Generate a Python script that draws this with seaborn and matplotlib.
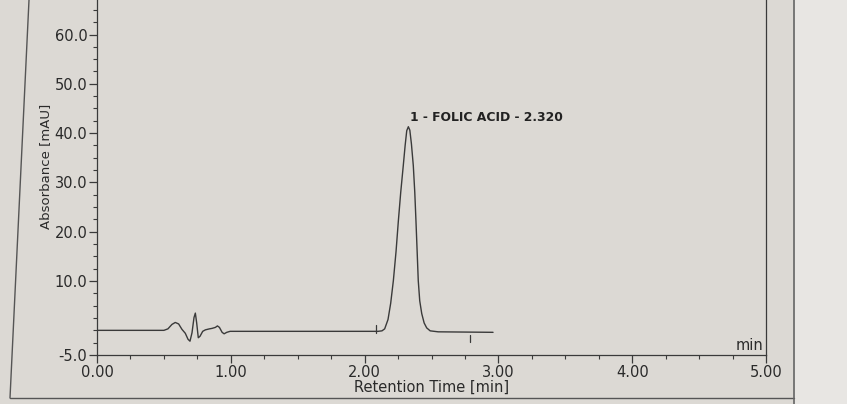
import matplotlib
matplotlib.use("Agg")
import matplotlib.pyplot as plt
from matplotlib.lines import Line2D
from matplotlib.patches import Rectangle
from matplotlib.ticker import FixedLocator, MultipleLocator, FormatStrFormatter
import seaborn as sns
import pandas as pd

# ---- data ----
time_min = [0.00, 0.50, 0.53, 0.56, 0.585, 0.61, 0.635, 0.66, 0.68, 0.695,
            0.71, 0.725, 0.735, 0.745, 0.757, 0.77, 0.79, 0.81, 0.84, 0.86,
            0.885, 0.90, 0.915, 0.935, 0.95, 0.97, 0.995, 1.50,
            2.10, 2.13, 2.15, 2.175, 2.195, 2.215, 2.235, 2.252, 2.27, 2.289,
            2.303, 2.315, 2.327, 2.338, 2.35, 2.364, 2.375, 2.384, 2.393, 2.401,
            2.412, 2.427, 2.445, 2.464, 2.49, 2.55, 2.96]
absorbance = [0.0, 0.0, 0.3, 1.2, 1.6, 1.3, 0.2, -0.6, -1.8, -2.2,
              -0.5, 2.6, 3.5, 1.5, -1.5, -1.2, -0.2, 0.1, 0.3, 0.4,
              0.6, 0.9, 0.6, -0.4, -0.7, -0.4, -0.2, -0.2,
              -0.2, -0.1, 0.3, 2.2, 5.5, 10.1, 16.0, 22.1, 28.0, 33.4,
              37.5, 40.5, 41.3, 40.6, 37.8, 33.4, 28.0, 22.1, 15.8, 10.1,
              6.0, 3.4, 1.5, 0.5, -0.1, -0.3, -0.4]

peak_label = "1 - FOLIC ACID - 2.320"
peak_time = 2.327
peak_height = 41.3
integration_marks = [2.085, 2.79]

x_ticks = [0.0, 1.0, 2.0, 3.0, 4.0, 5.0]
y_ticks = [-5.0, 10.0, 20.0, 30.0, 40.0, 50.0, 60.0]

# ---- styling ----
bg = "#dcd9d4"
ink = "#3a3a3a"
txt = "#2a2a2a"
sns.set_theme(style="white")
plt.rcParams["font.family"] = ["DejaVu Sans"]

W, H = 847, 404
fig = plt.figure(figsize=(W / 100, H / 100), dpi=100, facecolor=bg)
ax = fig.add_axes([97 / W, 1 - 355 / H, (766 - 97) / W, 355 / H])
ax.set_facecolor(bg)

df = pd.DataFrame({"t": time_min, "a": absorbance})
sns.lineplot(data=df, x="t", y="a", sort=False, estimator=None,
             color=ink, linewidth=1.0, ax=ax)

# integration markers
ax.plot([integration_marks[0]] * 2, [-0.6, 1.0], color=ink, lw=0.9)
ax.plot([integration_marks[1]] * 2, [-0.9, -2.4], color=ink, lw=0.9)

ax.annotate(peak_label, xy=(peak_time, peak_height), xytext=(1, 2),
            textcoords="offset points", ha="left", va="bottom",
            fontsize=8.9, fontweight="bold", color="#222222")

ax.set_xlim(0, 5)
ax.set_ylim(-5, 67)

ax.xaxis.set_major_locator(FixedLocator(x_ticks))
ax.xaxis.set_minor_locator(MultipleLocator(0.25))
ax.xaxis.set_major_formatter(FormatStrFormatter("%.2f"))
ax.yaxis.set_major_locator(FixedLocator(y_ticks))
ax.yaxis.set_minor_locator(MultipleLocator(2.5))
ax.yaxis.set_major_formatter(FormatStrFormatter("%.1f"))

ax.tick_params(axis="both", which="major", direction="out", length=6,
               width=0.9, color=ink, labelsize=10.5, labelcolor=txt, pad=1)
ax.tick_params(axis="both", which="minor", direction="out", length=3,
               width=0.8, color=ink)
ax.tick_params(axis="x", which="both", bottom=True)
ax.tick_params(axis="y", which="both", left=True, right=False)

for s in ["left", "bottom", "right"]:
    ax.spines[s].set_visible(True)
    ax.spines[s].set_color(ink)
    ax.spines[s].set_linewidth(0.9)
ax.spines["top"].set_visible(False)

ax.set_xlabel("Retention Time [min]", fontsize=10.5, color=txt, labelpad=0)
ax.set_ylabel("Absorbance [mAU]", fontsize=9.5, color=txt)
ax.yaxis.set_label_coords(-0.067, 0.532)
ax.text(4.98, -4.6, "min", ha="right", va="bottom", fontsize=10.5, color=txt)

# page frame of the printed report
fig.add_artist(Rectangle((795 / W, 0), 1 - 795 / W, 1, transform=fig.transFigure,
                         facecolor="#e8e6e3", edgecolor="none", zorder=-5))
fig.add_artist(Line2D([29 / W, 10 / W], [1, 1 - 398 / H], transform=fig.transFigure,
                      color="#555555", lw=1.0))
fig.add_artist(Line2D([10 / W, 794 / W], [1 - 398 / H, 1 - 398 / H],
                      transform=fig.transFigure, color="#555555", lw=1.0))
fig.add_artist(Line2D([794 / W, 794 / W], [0, 1], transform=fig.transFigure,
                      color="#666666", lw=1.2))

fig.savefig("out.png", dpi=100, facecolor=bg)
